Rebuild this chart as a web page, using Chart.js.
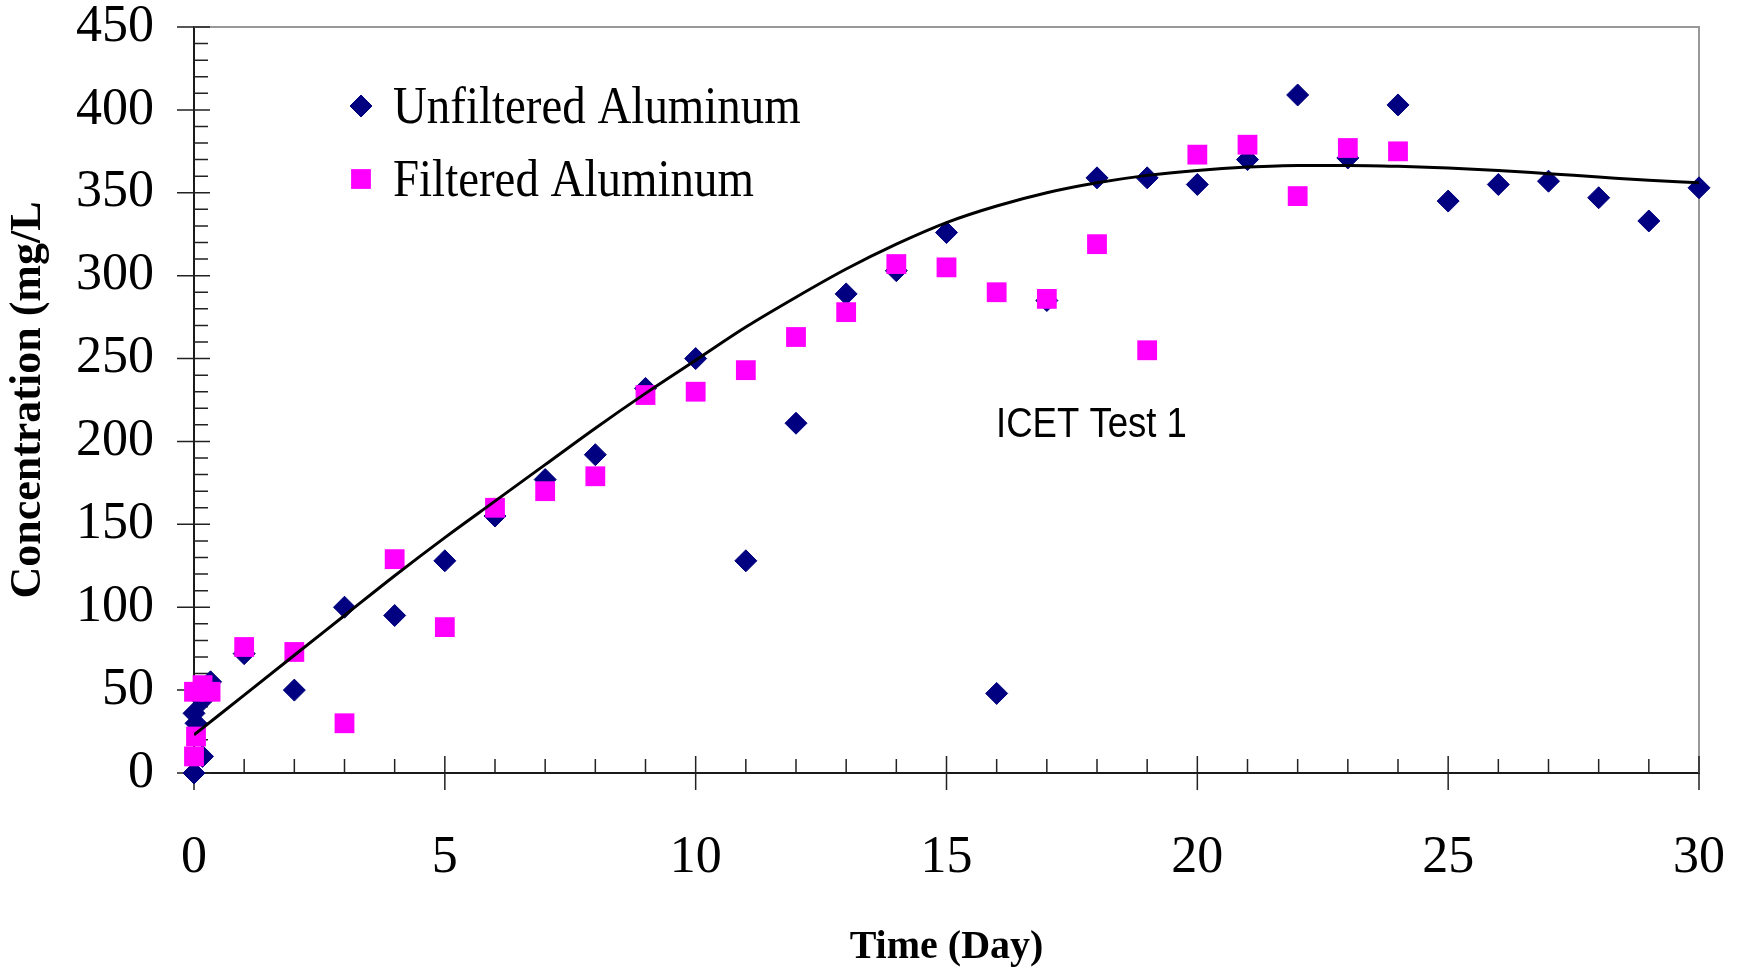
<!DOCTYPE html>
<html>
<head>
<meta charset="utf-8">
<title>ICET Test 1 - Aluminum</title>
<script src="https://cdn.jsdelivr.net/npm/chart.js@4.4.1/dist/chart.umd.min.js"></script>
<style>
    html, body { margin: 0; padding: 0; background: #fff; }
    #wrap { width: 1741px; height: 971px; position: relative; }
</style>
</head>
<body>
<div id="wrap"><canvas id="graficoAluminio"></canvas></div>
<script>
// DATA
const unfilteredDays = [0, 0.17, 0.04, 0, 0.17, 0.33, 1, 2, 3, 4, 5, 6, 7, 8, 9, 10, 11, 12, 13, 14, 15, 16, 17, 18, 19, 20, 21, 22, 23, 24, 25, 26, 27, 28, 29, 30];
const unfilteredAl = [0, 10, 30, 36, 44, 55, 72, 50, 100, 95, 128, 155, 177, 192, 232, 250, 128, 211, 289, 303, 326, 48, 285, 359, 359, 355, 370, 409, 371, 403, 345, 355, 357, 347, 333, 353];

const filteredDays = [0, 0.04, 0, 0.17, 0.33, 1, 2, 3, 4, 5, 6, 7, 8, 9, 10, 11, 12, 13, 14, 15, 16, 17, 18, 19, 20, 21, 22, 23, 24];
const filteredAl = [10, 22, 49, 53, 49, 76, 73, 30, 129, 88, 160, 170, 179, 228, 230, 243, 263, 278, 307, 305, 290, 286, 319, 255, 373, 379, 348, 377, 375];

// trend curve, sampled off the picture once per day
const trendDays = [0, 1, 2, 3, 4, 5, 6, 7, 8, 9, 10, 11, 12, 13, 14, 15, 16, 17, 18, 19, 20, 21, 22, 23, 24, 25, 26, 27, 28, 29, 30];
const trendAl = [23, 47, 71, 95, 119, 142, 164, 186, 208, 229, 249, 269, 287, 304, 319, 332, 342, 350, 356, 360.5, 363.5, 365.5, 366.5, 366.5, 366, 365, 363.5, 361.5, 359.5, 357.5, 356];

const xTickValues = [0, 5, 10, 15, 20, 25, 30];
const yTickValues = [0, 50, 100, 150, 200, 250, 300, 350, 400, 450];
const xMinorStep = 1;
const yMinorStep = 10;

const seriesNames = ['Unfiltered Aluminum', 'Filtered Aluminum'];
const noteText = 'ICET Test 1';

const toPoints = (xs, ys) => xs.map((x, i) => ({ x: x, y: ys[i] }));

/* ============================================================
   FRAME: grey top/right border and Excel style tick marks
   ============================================================ */
const axisFrame = {
    id: 'axisFrame',
    beforeDatasetsDraw(chart) {
        const { ctx, chartArea: a, scales: { x, y } } = chart;
        ctx.save();
        ctx.strokeStyle = '#999';
        ctx.lineWidth = 2;
        ctx.beginPath();
        ctx.moveTo(a.left, a.top);
        ctx.lineTo(a.right, a.top);
        ctx.lineTo(a.right, a.bottom);
        ctx.stroke();

        ctx.strokeStyle = '#222';
        ctx.lineWidth = 1.5;
        ctx.beginPath();
        const yMajor = yTickValues[1] - yTickValues[0];
        for (let v = y.min; v <= y.max; v += yMinorStep) {
            const py = y.getPixelForValue(v);
            const major = v % yMajor === 0;
            ctx.moveTo(a.left - (major ? 17 : 0), py);
            ctx.lineTo(a.left + (major ? 16 : 14), py);
        }
        const xMajor = xTickValues[1] - xTickValues[0];
        for (let v = x.min; v <= x.max; v += xMinorStep) {
            const px = x.getPixelForValue(v);
            const major = v % xMajor === 0;
            ctx.moveTo(px, a.bottom + (major ? 17 : 0));
            ctx.lineTo(px, a.bottom - (major ? 17 : 14));
        }
        ctx.stroke();
        ctx.restore();
    }
};

/* ============================================================
   LEGEND AND NOTE inside the plot
   ============================================================ */
const insideLegend = {
    id: 'insideLegend',
    afterDatasetsDraw(chart) {
        const { ctx, chartArea: a } = chart;
        ctx.save();
        [0, 1].forEach((i) => {
            const ds = chart.data.datasets[i];
            const cy = a.top + 79 + i * 73;
            const cx = a.left + 167;
            ctx.fillStyle = ds.backgroundColor;
            ctx.strokeStyle = ds.borderColor;
            ctx.lineWidth = ds.borderWidth;
            Chart.helpers.drawPoint(ctx, {
                pointStyle: ds.pointStyle,
                radius: ds.pointRadius,
                rotation: 0,
                borderWidth: ds.borderWidth
            }, cx, cy);

            ctx.save();
            ctx.translate(a.left + 199, cy + 17);
            ctx.scale(0.885, 1);
            ctx.fillStyle = '#000';
            ctx.font = '53px "Liberation Serif", "Times New Roman", serif';
            ctx.textBaseline = 'alphabetic';
            ctx.fillText(seriesNames[i], 0, 0);
            ctx.restore();
        });

        ctx.save();
        ctx.translate(a.left + 802, a.top + 410);
        ctx.scale(0.87, 1);
        ctx.fillStyle = '#000';
        ctx.font = '42px "Liberation Sans", Arial, sans-serif';
        ctx.fillText(noteText, 0, 0);
        ctx.restore();
        ctx.restore();
    }
};

document.addEventListener('DOMContentLoaded', () => {
    const ctx = document.getElementById('graficoAluminio');
    const serif = '"Liberation Serif", "Times New Roman", serif';

    new Chart(ctx, {
        type: 'scatter',
        data: {
            datasets: [
                {
                    label: seriesNames[0],
                    data: toPoints(unfilteredDays, unfilteredAl),
                    pointStyle: 'rectRot',
                    pointRadius: 11,
                    borderWidth: 1,
                    backgroundColor: '#000080',
                    borderColor: '#000080',
                    clip: false,
                    order: 2
                },
                {
                    label: seriesNames[1],
                    data: toPoints(filteredDays, filteredAl),
                    pointStyle: 'rect',
                    pointRadius: 14,
                    borderWidth: 0,
                    backgroundColor: '#FF00FF',
                    borderColor: '#FF00FF',
                    clip: false,
                    order: 1
                },
                {
                    label: 'Trend',
                    data: toPoints(trendDays, trendAl),
                    showLine: true,
                    pointRadius: 0,
                    borderColor: '#000',
                    borderWidth: 3,
                    cubicInterpolationMode: 'monotone',
                    fill: false,
                    order: 0
                }
            ]
        },
        options: {
            responsive: true,
            maintainAspectRatio: false,
            animation: false,
            events: [],
            layout: { padding: { top: 27, right: 42, left: 0, bottom: 0 } },
            plugins: {
                legend: { display: false },
                tooltip: { enabled: false }
            },
            scales: {
                x: {
                    type: 'linear',
                    min: 0,
                    max: 30,
                    afterBuildTicks: (s) => { s.ticks = xTickValues.map(v => ({ value: v })); },
                    afterFit: (s) => { s.height = 198; s.paddingLeft = 0; s.paddingRight = 0; },
                    grid: { display: false, drawTicks: false },
                    border: { display: true, color: '#1a1a1a', width: 2 },
                    ticks: {
                        autoSkip: false,
                        maxRotation: 0,
                        padding: 54,
                        color: '#000',
                        font: { family: serif, size: 52 }
                    },
                    title: {
                        display: true,
                        text: 'Time (Day)',
                        color: '#000',
                        font: { family: serif, size: 40, weight: 'bold', lineHeight: 1 },
                        padding: { top: 0, bottom: 3 }
                    }
                },
                y: {
                    type: 'linear',
                    min: 0,
                    max: 450,
                    afterBuildTicks: (s) => { s.ticks = yTickValues.map(v => ({ value: v })); },
                    afterFit: (s) => { s.width = 194; s.paddingTop = 0; s.paddingBottom = 0; },
                    grid: { display: false, drawTicks: false },
                    border: { display: true, color: '#1a1a1a', width: 2 },
                    ticks: {
                        autoSkip: false,
                        padding: 40,
                        color: '#000',
                        font: { family: serif, size: 52 }
                    },
                    title: {
                        display: true,
                        text: 'Concentration (mg/L',
                        color: '#000',
                        font: { family: serif, size: 44, weight: 'bold', lineHeight: 1.2 },
                        padding: { top: 2, bottom: 0 }
                    }
                }
            }
        },
        plugins: [axisFrame, insideLegend]
    });
});
</script>
</body>
</html>
